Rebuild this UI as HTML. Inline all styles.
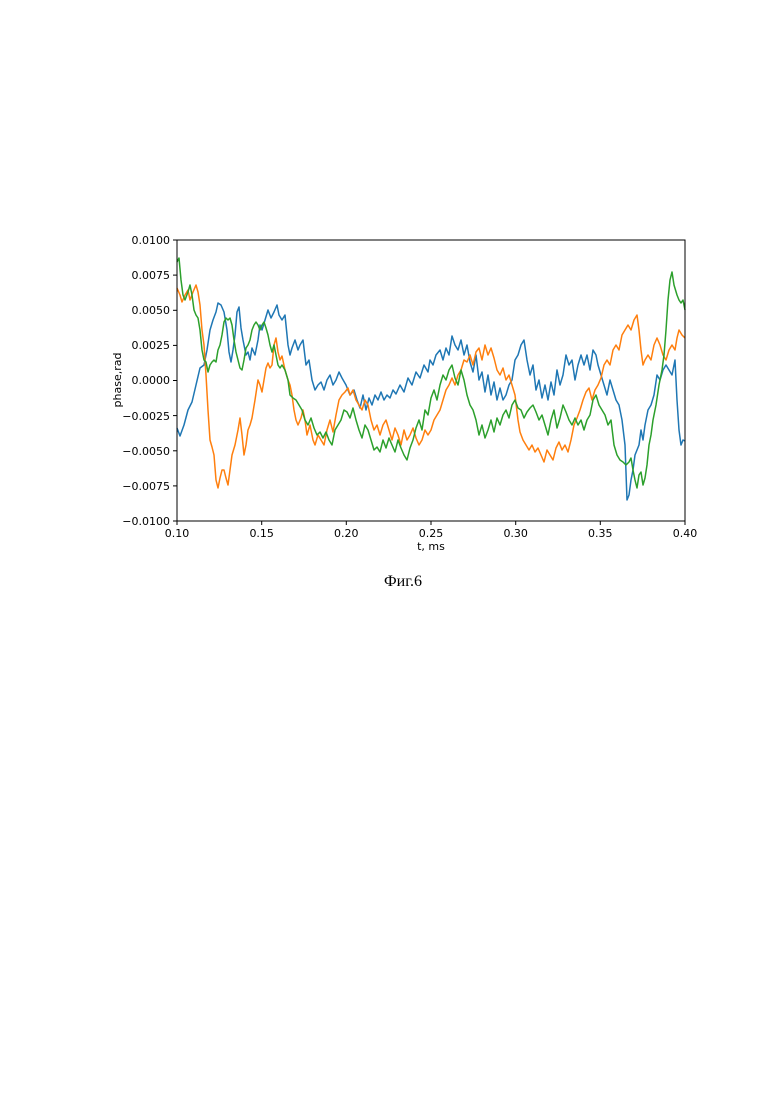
<!DOCTYPE html><html><head><meta charset="utf-8"><style>body{margin:0;background:#fff}svg{display:block}</style></head><body>
<svg width="780" height="1103" xmlns="http://www.w3.org/2000/svg" font-family="DejaVu Sans, Liberation Sans, sans-serif" font-size="11">
<rect width="780" height="1103" fill="#fff"/>
<g fill="none" stroke-width="1.5" stroke-linejoin="round">
<polyline stroke="#1f77b4" points="177,428 180,436 184,425 188,410 192,402 196,385 200,368 204,365 207,350 210,330 213,320 216,312 218,303 221,305 224,312 227,330 229,352 231,362 233,350 235,335 237,312 239,307 241,328 243,340 246,355 248,352 250,360 252,348 255,355 258,340 260,325 262,330 265,320 268,310 271,318 274,312 277,305 279,315 282,320 285,315 288,345 290,355 292,348 295,340 298,350 300,345 303,340 306,365 309,360 312,380 315,390 318,385 321,382 324,390 327,380 330,375 333,385 336,380 339,372 342,378 346,385 350,395 354,390 357,400 360,408 363,395 366,410 369,398 372,405 375,395 378,400 381,392 384,400 387,395 390,398 393,390 396,394 400,385 404,392 408,378 412,385 416,372 420,378 424,365 428,372 430,360 433,365 436,355 440,350 443,360 446,348 449,355 452,336 455,345 458,350 461,340 464,355 467,345 470,362 473,372 476,355 479,380 482,372 485,392 488,375 491,395 494,382 497,400 500,388 503,400 506,395 509,385 512,380 515,360 518,355 521,345 524,340 527,360 530,375 533,365 536,390 539,380 542,398 545,385 548,400 551,382 554,395 557,370 560,385 563,375 566,355 569,365 572,360 575,380 578,365 581,355 584,365 587,355 590,370 593,350 596,355 598,365 601,375 604,385 607,395 610,380 613,390 616,400 619,405 622,420 625,445 627,500 629,495 631,480 633,470 635,455 637,450 639,445 641,430 643,440 645,425 648,410 651,405 654,395 657,375 660,380 663,370 666,365 669,370 672,375 675,360 677,400 679,430 681,445 683,440 685,441"/>
<polyline stroke="#ff7f0e" points="177,288 180,295 182,302 185,295 188,290 190,300 193,292 196,285 198,292 200,305 202,330 204,345 206,375 208,410 210,440 212,447 214,455 216,480 218,488 220,478 222,470 224,470 226,478 228,485 230,470 232,455 235,445 238,430 240,418 242,435 244,455 246,445 248,430 250,425 252,418 255,400 258,380 260,385 262,392 264,380 266,368 268,363 270,368 272,365 274,345 276,338 278,352 280,360 282,356 285,370 288,380 290,385 292,395 294,410 296,420 298,425 301,418 303,410 305,420 307,435 310,425 313,440 315,445 318,435 321,440 324,445 327,430 330,420 333,432 336,415 339,400 342,395 345,392 348,388 350,395 353,390 356,400 359,405 362,410 365,400 368,405 371,420 374,430 377,425 380,435 383,425 386,420 389,430 392,440 395,428 398,435 401,445 404,430 407,440 410,435 413,428 416,438 419,445 422,440 425,430 428,435 431,430 434,420 437,415 440,410 443,400 446,390 449,385 452,378 455,385 458,375 461,370 464,360 467,362 470,355 473,365 476,352 479,348 482,360 485,345 488,355 491,348 494,358 497,370 500,375 503,368 506,380 509,375 512,385 515,395 518,420 520,432 523,440 526,445 529,450 532,445 535,452 538,448 541,455 544,462 547,450 550,455 553,460 556,448 559,442 562,450 565,445 568,452 571,440 574,425 577,418 580,410 583,400 586,392 589,388 592,400 595,390 598,385 601,378 604,365 607,360 610,365 613,350 616,345 619,350 622,335 625,330 628,325 631,330 634,320 637,315 639,330 641,350 643,365 645,360 648,355 651,360 654,345 657,338 660,345 663,355 666,360 669,350 672,345 675,350 677,338 679,330 682,335 685,338"/>
<polyline stroke="#2ca02c" points="177,262 179,258 181,280 183,295 185,300 188,292 190,285 192,295 194,310 196,315 198,318 200,330 202,350 204,360 206,362 208,372 210,365 212,362 214,360 216,362 218,350 220,345 222,335 224,322 226,318 228,320 230,318 232,325 234,340 236,352 238,360 240,368 242,370 244,360 246,348 248,345 250,340 252,330 254,325 256,322 258,325 260,330 262,325 264,322 266,328 268,335 270,345 272,352 274,345 276,355 278,365 280,368 282,365 285,370 288,380 290,395 293,398 296,400 299,405 302,410 305,420 308,425 311,418 314,428 317,435 320,432 323,438 326,432 329,440 332,445 335,430 338,425 341,420 344,410 347,412 350,418 353,408 356,420 359,430 362,438 365,425 368,430 371,440 374,450 377,447 380,452 383,440 386,448 389,438 392,445 395,452 398,440 401,448 404,455 407,460 410,448 413,440 416,428 419,420 422,430 425,410 428,415 431,398 434,390 437,400 440,385 443,375 446,380 449,370 452,365 455,378 458,385 461,370 464,380 467,395 470,405 473,410 476,420 479,435 482,425 485,438 488,430 491,420 494,432 497,418 500,425 503,415 506,410 509,418 512,405 515,400 518,408 521,410 524,418 527,412 530,408 533,405 536,412 539,420 542,415 545,425 548,435 551,420 554,410 557,428 560,418 563,405 566,412 569,420 572,425 575,418 578,425 581,420 584,430 587,420 590,415 593,400 596,395 599,405 602,410 605,415 608,425 611,420 614,445 617,455 620,460 623,462 626,465 629,462 631,458 633,470 635,480 637,488 639,475 641,472 643,485 645,478 647,465 649,445 651,435 653,420 656,405 659,385 662,370 664,355 666,330 668,300 670,280 672,272 674,285 677,295 679,300 681,303 683,300 685,310"/>
</g>
<rect x="177" y="240" width="508" height="281" fill="none" stroke="#000" stroke-width="1"/>
<g stroke="#000" stroke-width="1">
<line x1="177" y1="521" x2="177" y2="525"/><line x1="261.7" y1="521" x2="261.7" y2="525"/><line x1="346.3" y1="521" x2="346.3" y2="525"/><line x1="431" y1="521" x2="431" y2="525"/><line x1="515.7" y1="521" x2="515.7" y2="525"/><line x1="600.3" y1="521" x2="600.3" y2="525"/><line x1="685" y1="521" x2="685" y2="525"/>
<line x1="173" y1="240" x2="177" y2="240"/><line x1="173" y1="275.1" x2="177" y2="275.1"/><line x1="173" y1="310.3" x2="177" y2="310.3"/><line x1="173" y1="345.4" x2="177" y2="345.4"/><line x1="173" y1="380.5" x2="177" y2="380.5"/><line x1="173" y1="415.6" x2="177" y2="415.6"/><line x1="173" y1="450.8" x2="177" y2="450.8"/><line x1="173" y1="485.9" x2="177" y2="485.9"/><line x1="173" y1="521" x2="177" y2="521"/>
</g>
<g text-anchor="middle">
<text x="177" y="537">0.10</text><text x="261.7" y="537">0.15</text><text x="346.3" y="537">0.20</text><text x="431" y="537">0.25</text><text x="515.7" y="537">0.30</text><text x="600.3" y="537">0.35</text><text x="685" y="537">0.40</text>
<text x="431" y="550">t, ms</text>
</g>
<g text-anchor="end">
<text x="170" y="244">0.0100</text><text x="170" y="279">0.0075</text><text x="170" y="314">0.0050</text><text x="170" y="349">0.0025</text><text x="170" y="384">0.0000</text><text x="170" y="420">−0.0025</text><text x="170" y="455">−0.0050</text><text x="170" y="490">−0.0075</text><text x="170" y="525">−0.0100</text>
</g>
<text transform="translate(121,380) rotate(-90)" text-anchor="middle">phase,rad</text>
<text x="403" y="586" text-anchor="middle" font-family="Liberation Serif, serif" font-size="16">Фиг.6</text>
</svg>
</body></html>
